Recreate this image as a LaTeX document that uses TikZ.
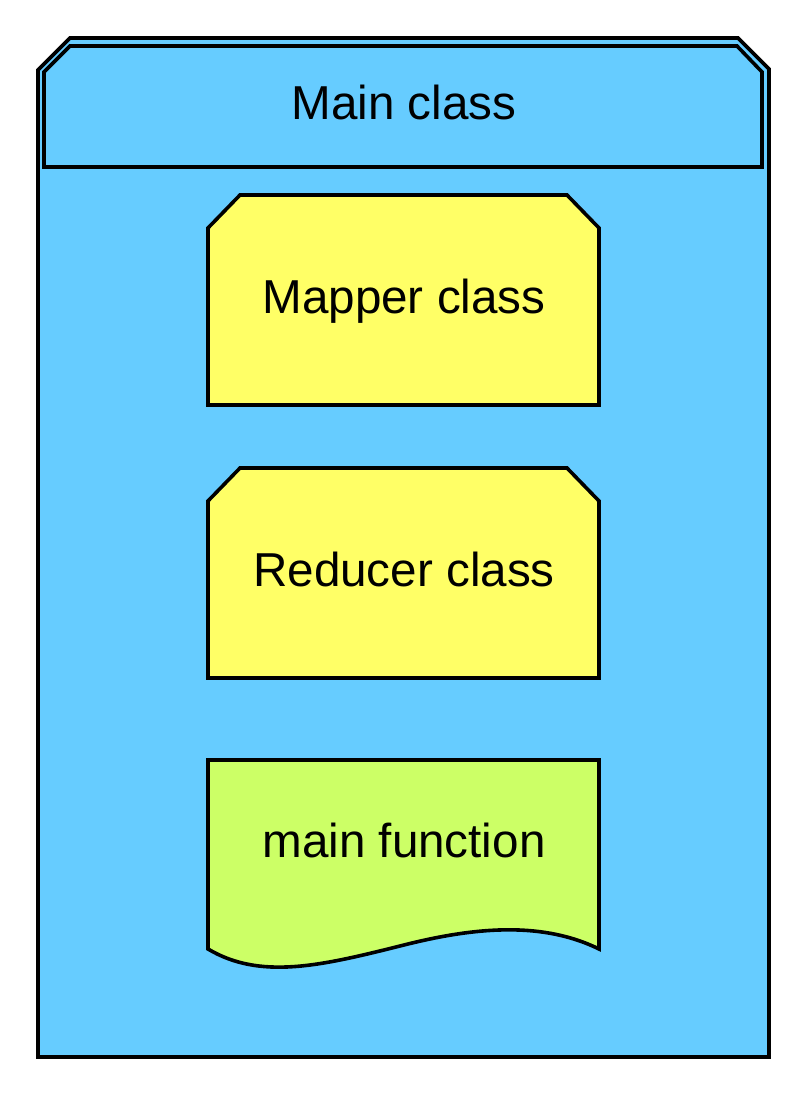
\documentclass[tikz,border=0pt]{standalone}
\usepackage{fontspec}
\setmainfont{Liberation Sans}
\definecolor{mainblue}{HTML}{66CCFF}
\definecolor{mapyellow}{HTML}{FFFF66}
\definecolor{fungreen}{HTML}{CCFF66}
\begin{document}
\begin{tikzpicture}[x=1pt,y=-1pt,
  shapeline/.style={draw=black,line width=3.6pt,line join=miter},
  label/.style={font=\fontsize{47.6}{50}\selectfont,anchor=base,inner sep=0pt}]
\useasboundingbox (0,0) rectangle (808,1097);
% outer main class shape
\path[shapeline,fill=mainblue] (38,1057) -- (38,70) -- (70,38) -- (738,38) -- (769,69) -- (769,1057) -- cycle;
% header
\path[shapeline,fill=mainblue] (44,167) -- (44,72) -- (70,46) -- (737,46) -- (762,72) -- (762,167) -- cycle;
\node[label] (main) at (404,120) {Main class};
% mapper
\path[shapeline,fill=mapyellow] (208,405) -- (208,228) -- (240,195) -- (567,195) -- (599,228) -- (599,405) -- cycle;
\node[label] (mapper) at (404,313) {Mapper class};
% reducer
\path[shapeline,fill=mapyellow] (208,678) -- (208,501) -- (240,468) -- (567,468) -- (599,501) -- (599,678) -- cycle;
\node[label] (reducer) at (404,586) {Reducer class};
% main function
\path[shapeline,fill=fungreen] (208,760) -- (599,760) -- (599,949)
  .. controls (540,920) and (470,928) .. (400,946)
  .. controls (320,966) and (260,980) .. (208,949) -- cycle;
\node[label] (mainfn) at (404,857) {main function};
\end{tikzpicture}
\end{document}
